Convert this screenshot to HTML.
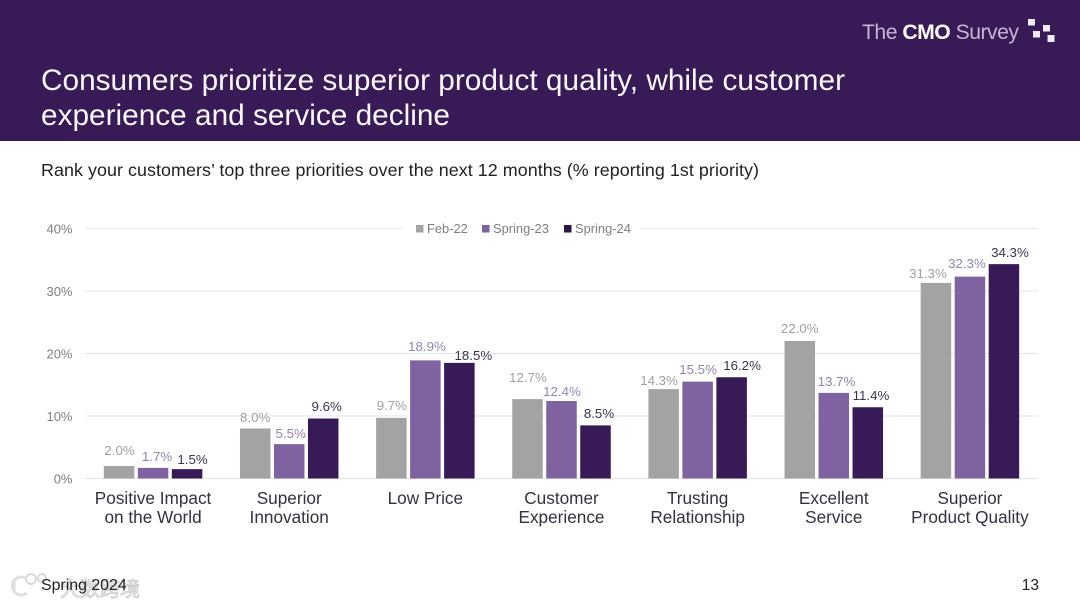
<!DOCTYPE html>
<html lang="en">
<head>
<meta charset="utf-8">
<title>Consumer priorities chart</title>
<style>
html,body{margin:0;padding:0;background:#fff;width:1080px;height:608px;overflow:hidden}
svg{display:block;font-family:"Liberation Sans","Noto Sans CJK SC",sans-serif}
</style>
</head>
<body>
<svg id="slide" width="1080" height="608" viewBox="0 0 1080 608" xmlns="http://www.w3.org/2000/svg">
  <rect x="0" y="0" width="1080" height="608" fill="#ffffff"/>
  <rect x="0" y="0" width="1080" height="141" fill="#371a56"/>
  <g>
    <text x="862" y="39" font-size="21.2" textLength="157" lengthAdjust="spacing" fill="#c5b6d6">The <tspan font-weight="700" fill="#ffffff">CMO</tspan> Survey</text>
    <rect x="1028" y="19" width="7" height="6.5" fill="#f1ecf5"/>
    <rect x="1033" y="31" width="7" height="6.5" fill="#f1ecf5"/>
    <rect x="1043" y="25" width="7" height="6.5" fill="#f1ecf5"/>
    <rect x="1047.5" y="35" width="7" height="7" fill="#f1ecf5"/>
  </g>
  <text x="41" y="90" font-size="29.8" fill="#fbf8fd" textLength="804" lengthAdjust="spacing">Consumers prioritize superior product quality, while customer</text>
  <text x="41" y="125" font-size="29.8" fill="#fbf8fd" textLength="409" lengthAdjust="spacing">experience and service decline</text>
  <text x="41" y="176" font-size="17.9" fill="#222222" textLength="718" lengthAdjust="spacing">Rank your customers’ top three priorities over the next 12 months (% reporting 1st priority)</text>
  <g id="chart"></g>
  <g>
    <text x="60" y="596" font-size="20" fill="#ffffff" stroke="#cfcfcf" stroke-width="1">大数跨境</text>
    <circle cx="31" cy="579" r="5" fill="none" stroke="#d8d8d8" stroke-width="2"/>
    <circle cx="42" cy="578" r="4" fill="none" stroke="#d8d8d8" stroke-width="2"/>
    <path d="M14 579 V593 M27 579 A9 9 0 1 0 27 593" fill="none" stroke="#e0e0e0" stroke-width="3"/>
  </g>
  <text x="41" y="590" font-size="15.9" fill="#222222">Spring 2024</text>
  <text x="1039" y="590" font-size="15.5" fill="#222222" text-anchor="end">13</text>
</svg>
<script>
var categories = [
  ["Positive Impact", "on the World"],
  ["Superior", "Innovation"],
  ["Low Price"],
  ["Customer", "Experience"],
  ["Trusting", "Relationship"],
  ["Excellent", "Service"],
  ["Superior", "Product Quality"]
];
var seriesNames = ["Feb-22", "Spring-23", "Spring-24"];
var feb22 = [2.0, 8.0, 9.7, 12.7, 14.3, 22.0, 31.3];
var spring23 = [1.7, 5.5, 18.9, 12.4, 15.5, 13.7, 32.3];
var spring24 = [1.5, 9.6, 18.5, 8.5, 16.2, 11.4, 34.3];
var yTicks = [0, 10, 20, 30, 40];

var NS = "http://www.w3.org/2000/svg";
var chart = document.getElementById("chart");
var allSeries = [feb22, spring23, spring24];
var barFill = ["#a3a3a3", "#7f63a1", "#371a56"];
var labelFill = ["#a0a0a0", "#9385ad", "#3d3350"];
var legendFill = ["#a5a5a5", "#7f63a1", "#2a1440"];
var plotLeft = 85, plotRight = 1038, plotTop = 228.5, plotBottom = 478.5, yMax = 40;
var barWidth = 30.5, barGap = 3.5;
/* hand-placed label offsets relative to each bar's centre and top */
var labelShiftX = [
  [0.5, 0, 0.5, 0.5, -4.6, 0, -8],
  [4, 1.5, 1.6, 0.5, 0.4, 2.7, -3],
  [5.5, 3.5, 14, 3.5, 10.4, 3.2, 6]
];
var labelShiftY = [
  [-11, -6.5, -8, -17, -4, -8, -5],
  [-7, -6, -9.5, -5, -7.6, -7, -8.6],
  [-5, -7.5, -3, -7.4, -7.3, -7.3, -7]
];

function yScale(v) {
  return plotBottom - (v / yMax) * (plotBottom - plotTop);
}
function bandCenter(i) {
  return plotLeft + (plotRight - plotLeft) * (i + 0.5) / categories.length;
}
function barX(i, s) {
  var total = barWidth * allSeries.length + barGap * (allSeries.length - 1);
  return bandCenter(i) - total / 2 + s * (barWidth + barGap);
}
function make(tag, attrs, text) {
  var el = document.createElementNS(NS, tag);
  for (var k in attrs) { el.setAttribute(k, attrs[k]); }
  if (text !== undefined) { el.textContent = text; }
  chart.appendChild(el);
  return el;
}

yTicks.forEach(function (t) {
  var line = make("line", {x1: plotLeft, x2: plotRight, y1: yScale(t), y2: yScale(t), stroke: "#e4e4e4", "stroke-width": 1});
  
  
  var label = make("text", {x: 72.5, y: yScale(t) + 5.2, "font-size": 13, fill: "#7f7f7f", "text-anchor": "end"}, t + "%");
  
  
});

var legendBg = make("rect", {x: 402, y: 220, width: 239, height: 17, fill: "#ffffff"});



var legendSwatchX = [416, 482, 564];
seriesNames.forEach(function (name, s) {
  var swatch = make("rect", {x: legendSwatchX[s], y: 225, width: 7.5, height: 7.5, fill: legendFill[s]});
  
  
  var text = make("text", {x: legendSwatchX[s] + 11, y: 233, "font-size": 12.9, fill: "#7f7f7f"}, name);
  
  
});

allSeries.forEach(function (values, s) {
  values.forEach(function (v, i) {
    var bar = make("rect", {x: barX(i, s), y: yScale(v), width: barWidth, height: plotBottom - yScale(v), fill: barFill[s]});
    
    
    var val = make("text", {x: barX(i, s) + barWidth / 2 + labelShiftX[s][i], y: yScale(v) + labelShiftY[s][i], "font-size": 13.3, fill: labelFill[s], "text-anchor": "middle"}, v.toFixed(1) + "%");
    
    
  });
});

categories.forEach(function (lines, i) {
  lines.forEach(function (line, j) {
    var cat = make("text", {x: bandCenter(i), y: 504 + j * 19, "font-size": 17.2, fill: "#33333f", "text-anchor": "middle"}, line);
    
    
  });
});
</script>
</body>
</html>
